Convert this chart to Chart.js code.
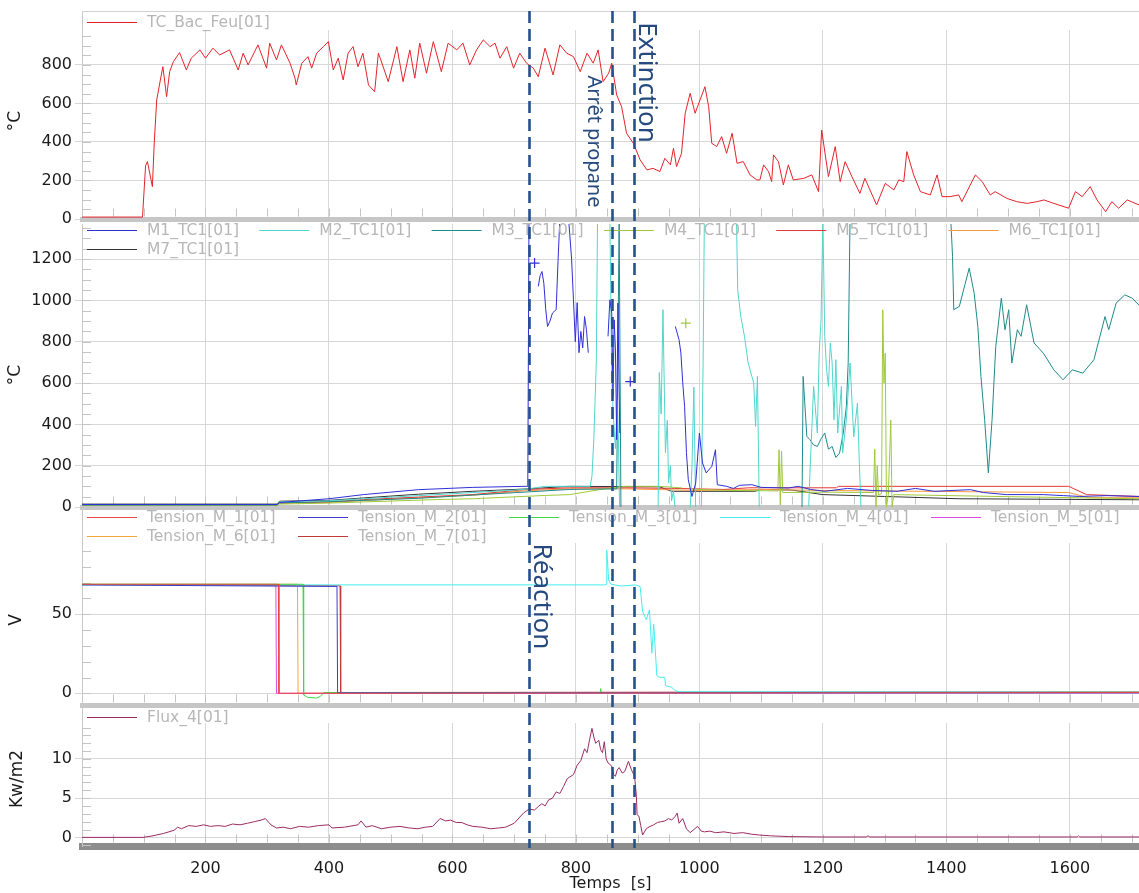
<!DOCTYPE html>
<html>
<head>
<meta charset="utf-8">
<script src="https://cdn.jsdelivr.net/npm/chart.js@4.4.1/dist/chart.umd.min.js"></script>
<style>
  html, body { margin: 0; padding: 0; background: #fff; }
  #wrap { position: relative; width: 1139px; height: 893px; overflow: hidden; }
  #wrap canvas { position: absolute; left: 0; }
</style>
</head>
<body>
<div id="wrap">
  <canvas id="pTemp" width="1139" height="232" style="top:0px"></canvas>
  <canvas id="pMod" width="1139" height="298" style="top:220px"></canvas>
  <canvas id="pVolt" width="1139" height="198" style="top:510px"></canvas>
  <canvas id="pFlux" width="1139" height="185" style="top:708px"></canvas>
</div>
<script>
// ---- data ----
const timeTicks = [200, 400, 600, 800, 1000, 1200, 1400, 1600];
const tempTicks = [0, 200, 400, 600, 800];
const modTicks = [0, 200, 400, 600, 800, 1000, 1200];
const voltTicks = [0, 50];
const fluxTicks = [0, 5, 10];

const eventTimes = [724, 858, 894];
const eventLabels = ['Réaction', 'Arrêt propane', 'Extinction'];

// [temps s, valeur]
const tcBacFeu = [[0,10],[98,10],[103,277],[106,298],[114,168],[117,395],[121,618],[126,706],[131,791],[137,635],[142,765],[148,817],[158,864],[169,774],[177,835],[191,878],[200,835],[212,887],[223,852],[239,878],[253,774],[261,861],[269,800],[285,904],[299,783],[304,913],[315,826],[323,904],[337,809],[345,731],[347,696],[356,809],[366,843],[372,783],[380,861],[391,895],[399,921],[407,774],[415,835],[423,722],[431,861],[439,895],[447,791],[455,861],[464,696],[474,661],[480,861],[483,835],[496,713],[510,895],[520,713],[531,878],[539,731],[547,913],[558,757],[569,921],[582,765],[593,913],[607,878],[617,913],[628,800],[639,878],[650,930],[661,895],[669,913],[677,835],[688,895],[699,783],[709,861],[720,809],[731,783],[739,739],[750,887],[763,748],[774,904],[785,861],[796,843],[807,765],[818,861],[828,809],[836,878],[844,713],[853,757],[858,809],[866,644],[874,583],[882,445],[893,393],[904,307],[915,255],[925,263],[936,246],[944,315],[953,281],[958,367],[963,272],[971,341],[977,549],[985,653],[993,549],[1001,618],[1009,687],[1015,583],[1020,393],[1028,376],[1036,428],[1044,341],[1053,445],[1061,289],[1071,298],[1082,229],[1093,203],[1098,203],[1104,281],[1112,246],[1117,194],[1120,333],[1128,298],[1136,177],[1144,281],[1152,203],[1169,211],[1182,229],[1193,142],[1198,462],[1209,220],[1220,376],[1228,194],[1236,298],[1247,220],[1260,133],[1268,211],[1287,73],[1301,185],[1315,151],[1323,203],[1331,194],[1336,350],[1347,229],[1358,142],[1374,125],[1385,229],[1393,116],[1406,116],[1420,125],[1425,90],[1447,229],[1458,194],[1471,125],[1479,142],[1498,107],[1514,90],[1531,81],[1547,90],[1558,99],[1574,81],[1598,56],[1609,142],[1620,116],[1633,168],[1644,99],[1658,38],[1668,90],[1679,56],[1693,99],[1712,73]];

const m1Tc = [[0,12],[316,12],[320,22],[400,40],[456,60],[545,84],[633,95],[716,100],[722,100],[724,1400],[727,1400],[729,null],[733,1181],[735,null],[739,1068],[742,1120],[745,1140],[748,1084],[751,960],[754,874],[758,900],[762,939],[766,950],[768,955],[771,1189],[774,1400],[788,1400],[793,1200],[796,1003],[799,800],[802,989],[805,747],[808,850],[811,770],[814,922],[817,860],[820,747],[822,null],[852,826],[855,1003],[858,939],[860,535],[862,906],[864,760],[866,326],[868,987],[871,358],[873,null],[888,607],[890,null],[961,874],[967,810],[970,746],[973,601],[976,487],[979,263],[982,132],[988,51],[994,116],[1000,358],[1005,213],[1011,165],[1020,196],[1026,277],[1029,108],[1044,100],[1055,90],[1065,105],[1085,108],[1100,95],[1144,92],[1160,100],[1180,85],[1203,76],[1240,90],[1280,80],[1320,76],[1350,90],[1380,76],[1439,84],[1460,70],[1497,60],[1557,60],[1590,55],[1616,51],[1660,55],[1712,51]];
const m2Tc = [[0,12],[316,12],[320,25],[400,30],[456,40],[545,55],[633,70],[716,85],[751,100],[790,100],[823,100],[826,150],[829,330],[833,700],[835,1400],[855,1400],[858,620],[861,420],[864,283],[867,520],[869,300],[871,-60],[933,-60],[935,651],[938,450],[941,955],[943,600],[945,263],[948,420],[950,116],[953,200],[955,30],[958,80],[961,-20],[985,-20],[988,200],[991,580],[994,-20],[1003,-20],[1006,706],[1008,1400],[1060,1400],[1062,1052],[1067,922],[1073,826],[1079,697],[1085,632],[1088,600],[1091,390],[1094,632],[1097,-20],[1175,-20],[1177,0],[1179,165],[1185,584],[1191,358],[1194,745],[1197,906],[1200,1400],[1203,826],[1206,664],[1209,584],[1212,794],[1215,697],[1218,422],[1221,713],[1224,358],[1230,584],[1232,261],[1238,422],[1244,697],[1250,340],[1256,503],[1259,213],[1262,-20],[1712,-20]];
const m3Tc = [[0,10],[316,10],[320,20],[400,26],[545,42],[633,58],[716,72],[790,85],[866,88],[870,1400],[873,-60],[1166,-60],[1168,632],[1174,342],[1179,326],[1185,300],[1191,293],[1197,330],[1203,358],[1209,280],[1215,293],[1221,240],[1227,261],[1233,358],[1238,487],[1241,700],[1244,1400],[1407,1400],[1410,1213],[1412,955],[1421,971],[1430,1076],[1437,1156],[1445,1035],[1451,874],[1456,632],[1462,422],[1468,165],[1474,422],[1480,777],[1489,1011],[1495,858],[1501,955],[1506,697],[1515,858],[1521,826],[1530,979],[1542,794],[1557,745],[1574,664],[1589,616],[1604,664],[1621,648],[1639,713],[1657,922],[1663,858],[1675,987],[1689,1027],[1701,1011],[1714,971]];
const m4Tc = [[0,8],[316,8],[320,14],[400,19],[574,36],[633,40],[751,56],[790,60],[850,90],[880,100],[935,100],[960,95],[972,92],[974,null],[978,890],[982,null],[986,88],[1000,85],[1050,80],[1127,78],[1129,277],[1131,10],[1133,270],[1135,70],[1200,72],[1282,70],[1284,280],[1286,0],[1288,200],[1290,60],[1295,65],[1297,955],[1299,600],[1301,745],[1303,0],[1306,60],[1310,420],[1312,0],[1315,60],[1500,50],[1712,40]];
const m5Tc = [[0,10],[316,10],[320,20],[400,25],[456,36],[545,48],[633,60],[716,84],[790,93],[880,93],[960,90],[1040,85],[1080,93],[1222,93],[1225,100],[1598,100],[1627,60],[1712,51]];
const m6Tc = [[0,10],[316,10],[320,18],[400,22],[545,45],[633,57],[716,78],[790,88],[880,88],[1000,80],[1100,85],[1200,80],[1400,75],[1598,70],[1630,45],[1712,45]];
const m7Tc = [[0,14],[316,14],[320,28],[400,32],[456,44],[545,62],[633,76],[716,87],[790,100],[935,98],[955,76],[1090,76],[1100,85],[1150,82],[1200,60],[1300,51],[1420,40],[1712,35]];

const tensionM1 = [[0,69],[318,69],[319,0],[1712,0.5]];
const tensionM2 = [[0,68.6],[413,67.6],[414,0.3],[1712,0.3]];
const tensionM3 = [[0,69],[358,69],[359,-1],[365,-2.5],[380,-3],[386,-2],[392,0.5],[839,0.5],[840,3],[841,0.5],[1712,0.5]];
const tensionM4 = [[0,68.6],[847,68.6],[849,69],[850,90.6],[853,71.7],[857,69],[873,67.9],[897,68.6],[904,67.5],[908,51.7],[914,46.5],[919,52.8],[921,40],[923,25.4],[926,43.9],[931,11.2],[935,10.1],[944,10.1],[945,4.8],[955,3.8],[961,1.7],[967,1],[1712,0.8]];
const tensionM5 = [[0,68.8],[314,68.8],[315,0],[1712,0.3]];
const tensionM6 = [[0,69],[349,69],[350,0],[1712,0.8]];
const tensionM7 = [[0,68.8],[418,68],[419,0.5],[1712,1]];

const flux4 = [[0,0],[99,0],[115,0.2],[132,0.5],[149,0.9],[155,1.3],[161,1.1],[173,1.5],[185,1.4],[197,1.6],[208,1.4],[220,1.5],[232,1.4],[244,1.7],[256,1.6],[268,1.8],[279,2.0],[290,2.2],[297,2.4],[306,1.6],[315,1.2],[326,1.3],[338,1.1],[352,1.4],[367,1.3],[383,1.5],[400,1.6],[405,1.2],[425,1.3],[447,1.6],[452,2.1],[460,1.3],[470,1.5],[485,1.1],[500,1.3],[515,1.4],[530,1.2],[544,1.1],[556,1.3],[568,1.4],[580,2.4],[589,2.1],[597,2.2],[606,1.9],[615,1.9],[624,1.6],[633,1.4],[648,1.3],[662,1.1],[675,1.2],[686,1.3],[700,1.8],[715,3.1],[724,3.6],[733,3.5],[740,4.0],[745,4.3],[750,4.0],[756,4.8],[762,5.0],[768,5.8],[774,5.6],[780,6.5],[786,7.5],[790,7.7],[796,8.0],[802,9.2],[808,9.8],[814,11.3],[818,10.8],[823,12.8],[826,13.9],[829,12.8],[832,12.0],[837,12.4],[840,11.2],[843,10.8],[846,12.2],[849,10.0],[852,9.5],[858,9.1],[861,8.0],[864,7.8],[867,8.6],[870,8.9],[875,8.2],[879,8.4],[885,9.7],[890,8.6],[895,7.8],[898,5.2],[899,2.9],[902,2.7],[905,1.5],[908,0.3],[914,1.1],[920,1.4],[926,1.6],[932,1.9],[938,2.0],[944,2.1],[950,2.4],[955,2.2],[961,2.7],[964,3.1],[967,1.8],[973,2.4],[979,1.1],[985,0.6],[991,1.0],[997,1.4],[1003,0.8],[1008,0.7],[1017,0.8],[1026,0.6],[1040,0.7],[1056,0.5],[1070,0.6],[1085,0.4],[1097,0.3],[1115,0.2],[1144,0.1],[1200,0.05],[1270,0.05],[1273,0.2],[1276,0.05],[1612,0.05],[1614,0.2],[1616,0.05],[1712,0.05]];

// ---- drawing ----
const X_MAX = 1712;
const FONT = '"DejaVu Sans", Verdana, sans-serif';
const GRID = '#d7d7d7';
const EVENT_COLOR = '#24508f';

Chart.defaults.font.family = FONT;

// a point with no neighbours is shown as a "+" like in the acquisition software
function isolated(c) {
  const d = c.dataset.data, i = c.dataIndex;
  const cur = d[i], prev = d[i - 1], next = d[i + 1];
  return cur && cur.y !== null && (!prev || prev.y === null) && (!next || next.y === null);
}

function series(label, pts, color) {
  return {
    label,
    data: pts.map(p => ({ x: p[0], y: p[1] })),
    borderColor: color,
    backgroundColor: color,
    borderWidth: 1,
    tension: 0,
    spanGaps: false,
    pointStyle: 'cross',
    pointBorderWidth: 1.2,
    pointRadius: c => isolated(c) ? 5 : 0
  };
}

const panelDeco = {
  id: 'panelDeco',
  beforeDatasetsDraw(chart, args, o) {
    const { ctx, chartArea: a, scales: { x, y } } = chart;
    ctx.save();
    // small inner ticks
    ctx.strokeStyle = '#c4c4c4';
    ctx.lineWidth = 1;
    ctx.beginPath();
    for (let t = 50; t < x.max; t += 50) {
      const px = Math.round(x.getPixelForValue(t)) + 0.5;
      ctx.moveTo(px, a.bottom - o.barHalf);
      ctx.lineTo(px, a.bottom - o.barHalf - 8);
    }
    for (let v = Math.ceil(y.min / o.yMinor) * o.yMinor; v <= y.max; v += o.yMinor) {
      const py = Math.round(y.getPixelForValue(v)) + 0.5;
      ctx.moveTo(a.left, py);
      ctx.lineTo(a.left + 9, py);
    }
    ctx.stroke();
    // legend strip
    if (o.boxBottom) {
      ctx.fillStyle = '#fff';
      ctx.fillRect(a.left + 1, a.top, a.right - a.left - 1, o.boxBottom - a.top);
    }
    if (o.topLine) {
      ctx.strokeStyle = '#d2d2d2';
      ctx.beginPath();
      ctx.moveTo(a.left, a.top + 0.5);
      ctx.lineTo(a.right, a.top + 0.5);
      ctx.stroke();
    }
    ctx.restore();
  },
  afterDatasetsDraw(chart, args, o) {
    const { ctx, chartArea: a } = chart;
    ctx.save();
    ctx.font = '15.5px ' + FONT;
    ctx.textBaseline = 'middle';
    ctx.textAlign = 'left';
    chart.data.datasets.forEach((ds, i) => {
      const col = i % o.cols, row = Math.floor(i / o.cols);
      const x0 = a.left + 5 + col * o.colW;
      const yy = o.legendY + row * 19;
      ctx.strokeStyle = ds.borderColor;
      ctx.lineWidth = 1.2;
      ctx.beginPath();
      ctx.moveTo(x0, Math.round(yy) + 0.5);
      ctx.lineTo(x0 + 50, Math.round(yy) + 0.5);
      ctx.stroke();
      ctx.fillStyle = '#b7b7b7';
      ctx.fillText(ds.label, x0 + 60, yy + 1);
    });
    // axis unit, placed like the original software does
    ctx.save();
    ctx.translate(o.unitX, o.unitY);
    ctx.rotate(-Math.PI / 2);
    ctx.textAlign = 'center';
    ctx.fillStyle = '#1a1a1a';
    ctx.font = '17px ' + FONT;
    ctx.fillText(o.unit, 0, 0);
    ctx.restore();
    ctx.restore();
  },
  afterDraw(chart, args, o) {
    const { ctx, scales: { x } } = chart;
    ctx.save();
    ctx.strokeStyle = EVENT_COLOR;
    ctx.lineWidth = 2.6;
    ctx.setLineDash([12, 6]);
    ctx.lineDashOffset = ((o.canvasTop + o.lineTop - 11) % 18);
    eventTimes.forEach(t => {
      const px = Math.round(x.getPixelForValue(t)) + 0.5;
      ctx.beginPath();
      ctx.moveTo(px, o.lineTop);
      ctx.lineTo(px, o.lineBottom);
      ctx.stroke();
    });
    ctx.setLineDash([]);
    ctx.fillStyle = '#264a7e';
    ctx.textAlign = 'center';
    ctx.textBaseline = 'middle';
    (o.notes || []).forEach(n => {
      ctx.save();
      ctx.translate(x.getPixelForValue(eventTimes[n.ev]) + n.dx, n.y);
      ctx.rotate(Math.PI / 2);
      ctx.font = n.size + 'px "Noto Sans", "Open Sans", sans-serif';
      ctx.fillText(eventLabels[n.ev], 0, 0);
      ctx.restore();
    });
    ctx.restore();
  }
};

function makePanel(id, p) {
  const yTicks = p.yTicks;
  const xScale = {
    type: 'linear',
    min: 0,
    max: X_MAX,
    afterBuildTicks: s => { s.ticks = timeTicks.map(v => ({ value: v })); },
    afterFit: s => { s.height = p.xHeight; s.paddingLeft = 0; s.paddingRight = 0; },
    grid: { color: GRID, drawTicks: false },
    border: { color: p.barColor, width: p.barWidth },
    ticks: {
      display: !!p.xLabels,
      autoSkip: false,
      maxRotation: 0,
      padding: 13,
      color: '#1a1a1a',
      font: { size: 16 },
      callback: v => String(v)
    },
    title: {
      display: !!p.xLabels,
      text: 'Temps  [s]',
      color: '#1a1a1a',
      font: { size: 16 },
      padding: { top: 0, bottom: 0 }
    }
  };
  const yScale = {
    position: 'left',
    min: p.yMin,
    max: p.yMax,
    afterBuildTicks: s => { s.ticks = yTicks.map(v => ({ value: v })); },
    afterFit: s => { s.width = 82; s.paddingTop = 0; s.paddingBottom = 0; },
    grid: { color: GRID, tickLength: 7 },
    border: { color: '#c8c8c8', width: 1 },
    ticks: { padding: 3, color: '#1a1a1a', font: { size: 16 }, callback: v => String(v) },
    title: { display: false }
  };
  return new Chart(document.getElementById(id), {
    type: 'line',
    data: { datasets: p.datasets },
    options: {
      responsive: false,
      animation: false,
      devicePixelRatio: 1,
      events: [],
      layout: { padding: { top: p.padTop, left: 0, right: 0, bottom: 0 } },
      plugins: {
        legend: { display: false },
        tooltip: { enabled: false },
        panelDeco: p.deco
      },
      scales: { x: xScale, y: yScale }
    },
    plugins: [panelDeco]
  });
}

makePanel('pTemp', {
  padTop: 11, xHeight: 13, yMin: 0, yMax: 1080, yTicks: tempTicks,
  barColor: '#c6c6c6', barWidth: 5,
  datasets: [series('TC_Bac_Feu[01]', tcBacFeu, '#e3232b')],
  deco: {
    barHalf: 2.5, yMinor: 50, boxBottom: 30, topLine: true, cols: 6, colW: 172.3, legendY: 21.5,
    unit: '°C', unitX: 16, unitY: 121,
    canvasTop: 0, lineTop: 11, lineBottom: 224,
    notes: [{ ev: 1, dx: -18, y: 141.5, size: 20 }, { ev: 2, dx: 12, y: 82.5, size: 26 }]
  }
});

makePanel('pMod', {
  padTop: 4, xHeight: 11, yMin: 0, yMax: 1370, yTicks: modTicks,
  barColor: '#c6c6c6', barWidth: 5,
  datasets: [
    series('M1_TC1[01]', m1Tc, '#2f2fd8'),
    series('M2_TC1[01]', m2Tc, '#4fd6cc'),
    series('M3_TC1[01]', m3Tc, '#1f8a8a'),
    series('M4_TC1[01]', m4Tc, '#9fc93a'),
    series('M5_TC1[01]', m5Tc, '#e83535'),
    series('M6_TC1[01]', m6Tc, '#f59a3e'),
    series('M7_TC1[01]', m7Tc, '#333333')
  ],
  deco: {
    barHalf: 2.5, yMinor: 50, boxBottom: 0, topLine: false, cols: 6, colW: 172.3, legendY: 10,
    unit: '°C', unitX: 16, unitY: 155,
    canvasTop: 220, lineTop: 4, lineBottom: 290, notes: []
  }
});

makePanel('pVolt', {
  padTop: 0, xHeight: 3, yMin: -7.4, yMax: 116, yTicks: voltTicks,
  barColor: '#c6c6c6', barWidth: 5,
  datasets: [
    series('Tension_M_1[01]', tensionM1, '#e84545'),
    series('Tension_M_2[01]', tensionM2, '#3c3cd0'),
    series('Tension_M_3[01]', tensionM3, '#3fd94a'),
    series('Tension_M_4[01]', tensionM4, '#45eeee'),
    series('Tension_M_5[01]', tensionM5, '#e048e0'),
    series('Tension_M_6[01]', tensionM6, '#f4a63c'),
    series('Tension_M_7[01]', tensionM7, '#c23b3b')
  ],
  deco: {
    barHalf: 2.5, yMinor: 10, boxBottom: 33, topLine: false, cols: 5, colW: 211, legendY: 6.7,
    unit: 'V', unitX: 17, unitY: 110,
    canvasTop: 510, lineTop: 0, lineBottom: 198,
    notes: [{ ev: 0, dx: 12, y: 86.5, size: 26 }]
  }
});

makePanel('pFlux', {
  padTop: 0, xHeight: 47, yMin: -1.1, yMax: 16.5, yTicks: fluxTicks,
  barColor: '#8d8d8d', barWidth: 7, xLabels: true,
  datasets: [series('Flux_4[01]', flux4, '#9c2b63')],
  deco: {
    barHalf: 3.5, yMinor: 1, boxBottom: 15, topLine: false, cols: 6, colW: 172.3, legendY: 8.7,
    unit: 'Kw/m2', unitX: 18, unitY: 71,
    canvasTop: 708, lineTop: 0, lineBottom: 140, notes: []
  }
});
</script>
</body>
</html>
